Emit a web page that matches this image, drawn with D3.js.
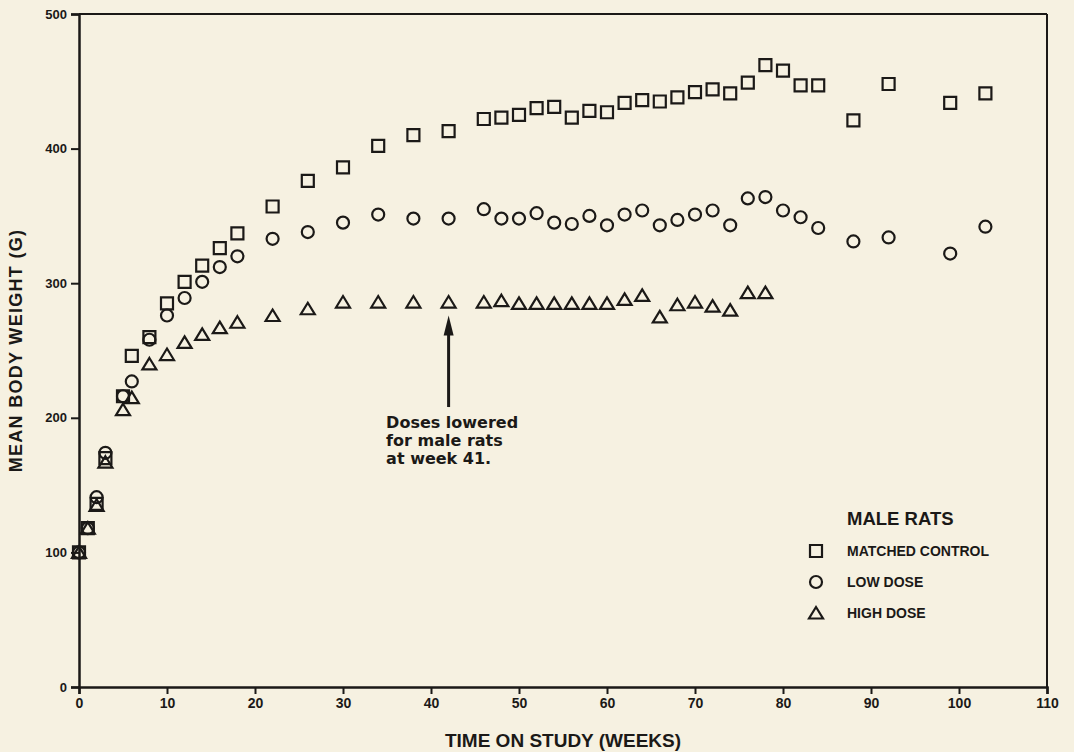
<!DOCTYPE html>
<html>
<head>
<meta charset="utf-8">
<script src="https://cdn.jsdelivr.net/npm/d3@7"></script>
<style>
  html, body { margin: 0; padding: 0; background: #f6f1e1; }
  svg { display: block; }
  .tick-label { font-family: "Liberation Sans", Arial, sans-serif; font-weight: bold; fill: #1b1917; }
  .x-label { font-family: "Liberation Sans Narrow", "Liberation Sans", sans-serif; font-stretch: condensed; }
  .mark { fill: none; stroke: #1b1917; stroke-width: 2.2; }
</style>
</head>
<body>
<svg id="chart" width="1074" height="752"></svg>
<script>
const weeksAll = [0, 1, 2, 3, 5, 6, 8, 10, 12, 14, 16, 18, 22, 26, 30, 34, 38, 42, 46, 48, 50, 52, 54, 56, 58, 60, 62, 64, 66, 68, 70, 72, 74, 76, 78, 80, 82, 84, 88, 92, 99, 103];
const controlWeight = [100, 118, 136, 170, 216, 246, 260, 285, 301, 313, 326, 337, 357, 376, 386, 402, 410, 413, 422, 423, 425, 430, 431, 423, 428, 427, 434, 436, 435, 438, 442, 444, 441, 449, 462, 458, 447, 447, 421, 448, 434, 441];
const lowWeight = [100, 118, 141, 174, 216, 227, 258, 276, 289, 301, 312, 320, 333, 338, 345, 351, 348, 348, 355, 348, 348, 352, 345, 344, 350, 343, 351, 354, 343, 347, 351, 354, 343, 363, 364, 354, 349, 341, 331, 334, 322, 342];
const highWeeks = weeksAll.slice(0, 35);
const highWeight = [100, 118, 135, 167, 206, 215, 240, 247, 256, 262, 267, 271, 276, 281, 286, 286, 286, 286, 286, 287, 285, 285, 285, 285, 285, 285, 288, 291, 275, 284, 286, 283, 280, 293, 293];

const xTicks = [0, 10, 20, 30, 40, 50, 60, 70, 80, 90, 100, 110];
const yTicks = [0, 100, 200, 300, 400, 500];
const legendLabels = ["MATCHED CONTROL", "LOW DOSE", "HIGH DOSE"];
const noteLines = ["Doses lowered", "for male rats", "at week 41."];
const noteWeek = 42;

const ink = "#1b1917";
const $svg = d3.select("#chart");
const plot = { left: 79, right: 1047, top: 14, bottom: 687 };

const x = d3.scaleLinear().domain([0, 110]).range([plot.left, plot.right]);
const y = d3.scaleLinear().domain([0, 500]).range([plot.bottom, plot.top]);

// shapes centred on their box
const squarePath = "M-6,-6H6V6H-6Z";
const circlePath = d3.symbol(d3.symbolCircle, Math.PI * 36)();
const trianglePath = "M0,-6L7,5.5L-7,5.5Z";

// frame: top and right edges
$svg.append("line")
  .attr("x1", x(0)).attr("x2", x(110))
  .attr("y1", y(500)).attr("y2", y(500))
  .attr("stroke", ink).attr("stroke-width", 2);
$svg.append("line")
  .attr("x1", x(110)).attr("x2", x(110))
  .attr("y1", y(500)).attr("y2", y(0))
  .attr("stroke", ink).attr("stroke-width", 2);

const xAxis = $svg.append("g")
  .attr("transform", `translate(0,${y(0)})`)
  .call(d3.axisBottom(x).tickValues(xTicks).tickSize(7).tickPadding(4));
xAxis.selectAll("text").attr("class", "tick-label x-label").style("font-size", "14px");

const yAxis = $svg.append("g")
  .attr("transform", `translate(${x(0)},0)`)
  .call(d3.axisLeft(y).tickValues(yTicks).tickSize(8).tickPadding(4));
yAxis.selectAll("text").attr("class", "tick-label").style("font-size", "13px");

[xAxis, yAxis].forEach(g => {
  g.select(".domain").attr("stroke", ink).attr("stroke-width", 2.5);
  g.selectAll(".tick line").attr("stroke", ink).attr("stroke-width", 2);
});

// axis titles
$svg.append("text")
  .attr("class", "tick-label x-label")
  .attr("x", (plot.left + plot.right) / 2)
  .attr("y", 747)
  .attr("text-anchor", "middle")
  .style("font-size", "19px")
  .text("TIME ON STUDY (WEEKS)");

$svg.append("text")
  .attr("class", "tick-label")
  .attr("transform", `translate(22,${(plot.top + plot.bottom) / 2}) rotate(-90)`)
  .attr("text-anchor", "middle")
  .style("font-size", "18px")
  .style("letter-spacing", "1.3px")
  .text("MEAN BODY WEIGHT (G)");

// data marks
const marks = $svg.append("g");
function drawSeries(weeks, values, path) {
  marks.append("g").selectAll("path")
    .data(weeks.map((w, i) => [w, values[i]]))
    .join("path")
    .attr("class", "mark")
    .attr("d", path)
    .attr("transform", d => `translate(${x(d[0])},${y(d[1])})`);
}
drawSeries(weeksAll, controlWeight, squarePath);
drawSeries(weeksAll, lowWeight, circlePath);
drawSeries(highWeeks, highWeight, trianglePath);

// annotation arrow
const tipY = y(276), tailY = y(208);
$svg.append("line")
  .attr("x1", x(noteWeek)).attr("x2", x(noteWeek))
  .attr("y1", tipY + 14).attr("y2", tailY)
  .attr("stroke", ink).attr("stroke-width", 3);
$svg.append("path")
  .attr("d", `M${x(noteWeek)},${tipY}L${x(noteWeek) + 5},${tipY + 20}L${x(noteWeek) - 5},${tipY + 20}Z`)
  .attr("fill", ink);

$svg.append("g").selectAll("text")
  .data(noteLines)
  .join("text")
  .attr("x", x(34.9))
  .attr("y", (d, i) => 428 + i * 18)
  .style("font-family", "'DejaVu Sans', sans-serif")
  .style("font-weight", "bold")
  .style("font-size", "16px")
  .attr("fill", ink)
  .text(d => d);

// legend
const legend = $svg.append("g").attr("transform", "translate(816,0)");
legend.append("text")
  .attr("class", "tick-label")
  .attr("x", 31).attr("y", 525)
  .style("font-size", "18.5px")
  .text("MALE RATS");
const legendShapes = [squarePath, circlePath, trianglePath];
legendLabels.forEach((label, i) => {
  const cy = 551 + i * 31;
  legend.append("path").attr("class", "mark").attr("d", legendShapes[i])
    .attr("transform", `translate(0,${cy})`);
  legend.append("text")
    .attr("class", "tick-label")
    .attr("x", 31).attr("y", cy + 5)
    .style("font-size", "14px")
    .text(label);
});
</script>
</body>
</html>
